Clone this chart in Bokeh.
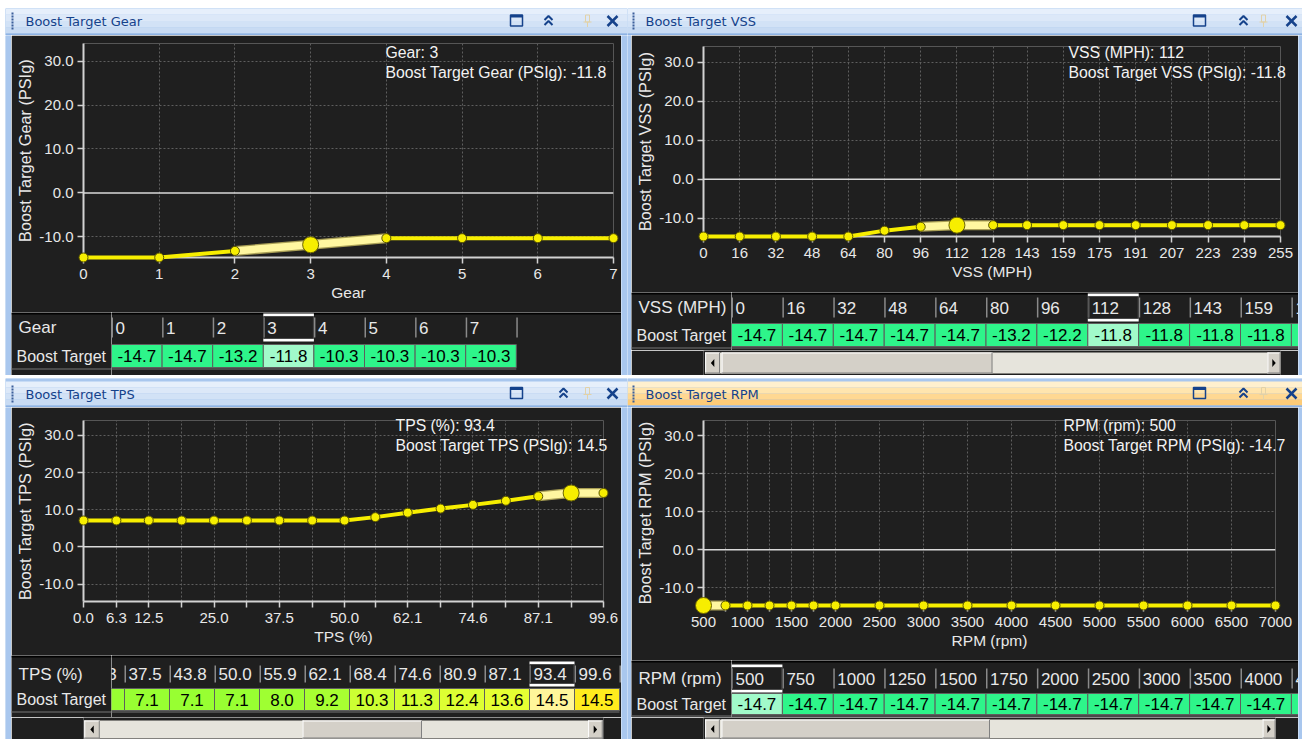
from bokeh.plotting import figure
from bokeh.layouts import row, column
from bokeh.models import (Range1d, FixedTicker, CustomJSTickFormatter, PrintfTickFormatter,
                          Span, Spacer)
from bokeh.core.properties import value
from bokeh.embed import file_html
from bokeh.resources import INLINE

# ---------------- data ----------------
gear_x = [0, 1, 2, 3, 4, 5, 6, 7]
gear_y = [-14.7, -14.7, -13.2, -11.8, -10.3, -10.3, -10.3, -10.3]
gear_tick_labels = ["0", "1", "2", "3", "4", "5", "6", "7"]
gear_headers = ["0", "1", "2", "3", "4", "5", "6", "7"]
gear_sel = 3

vss_x = [0, 16, 32, 48, 64, 80, 96, 112, 128, 143, 159, 175, 191, 207, 223, 239, 255]
vss_y = [-14.7, -14.7, -14.7, -14.7, -14.7, -13.2, -12.2, -11.8, -11.8, -11.8, -11.8,
         -11.8, -11.8, -11.8, -11.8, -11.8, -11.8]
vss_tick_labels = ["0", "16", "32", "48", "64", "80", "96", "112", "128", "143", "159",
                   "175", "191", "207", "223", "239", "255"]
vss_headers = vss_tick_labels
vss_sel = 7

tps_x = [0.0, 6.3, 12.5, 18.8, 25.0, 31.3, 37.5, 43.8, 50.0, 55.9, 62.1, 68.4, 74.6,
         80.9, 87.1, 93.4, 99.6]
tps_y = [7.1, 7.1, 7.1, 7.1, 7.1, 7.1, 7.1, 7.1, 7.1, 8.0, 9.2, 10.3, 11.3, 12.4, 13.6,
         14.5, 14.5]
tps_tick_labels = ["0.0", "6.3", "12.5", "", "25.0", "", "37.5", "", "50.0", "", "62.1",
                   "", "74.6", "", "87.1", "", "99.6"]
tps_headers = ["0.0", "6.3", "12.5", "18.8", "25.0", "31.3", "37.5", "43.8", "50.0",
               "55.9", "62.1", "68.4", "74.6", "80.9", "87.1", "93.4", "99.6"]
tps_sel = 15

rpm_x = [500, 750, 1000, 1250, 1500, 1750, 2000, 2500, 3000, 3500, 4000, 4500, 5000,
         5500, 6000, 6500, 7000]
rpm_y = [-14.7, -14.7, -14.7, -14.7, -14.7, -14.7, -14.7, -14.7, -14.7, -14.7, -14.7,
         -14.7, -14.7, -14.7, -14.7, -14.7, -14.7]
rpm_tick_labels = ["500", "", "1000", "", "1500", "", "2000", "2500", "3000", "3500",
                   "4000", "4500", "5000", "5500", "6000", "6500", "7000"]
rpm_headers = ["500", "750", "1000", "1250", "1500", "1750", "2000", "2500", "3000",
               "3500", "4000", "4500", "5000", "5500", "6000", "6500", "7000"]
rpm_sel = 0

y_ticks = [-10, 0, 10, 20, 30]
y_min, y_max = -14.7, 34.0

# ---------------- style ----------------
DARK = "#1F1F1F"
BORDER = "#A9C7EE"
TXT = "#E8E8E8"
GRID = "#5E5E5E"
AXIS = "#D2D2D2"
YEL = "#F7EE00"
F = "Liberation Sans"
TF = "DejaVu Sans"


def pix(w, h, bg):
    return figure(width=w, height=h, x_range=Range1d(0, w), y_range=Range1d(h, 0),
                  x_axis_type=None, y_axis_type=None, output_backend="svg",
                  toolbar_location=None, min_border=0, background_fill_color=bg,
                  border_fill_color=bg, outline_line_color=None)


def border_fig(w, h):
    p = pix(w, h, BORDER)
    p.quad(left=[0], right=[w], top=[0], bottom=[h], fill_color=BORDER, line_color=None)
    return p


def cell_color(v, sel=False):
    stops = [(-14.7, (46, 245, 138)), (-10.3, (46, 245, 138)), (7.1, (152, 255, 50)),
             (9.2, (168, 255, 50)), (10.3, (204, 255, 51)), (13.6, (230, 255, 51)),
             (14.5, (255, 236, 30))]
    c = stops[-1][1]
    if v <= stops[0][0]:
        c = stops[0][1]
    for (a, ca), (b, cb) in zip(stops[:-1], stops[1:]):
        if a <= v <= b:
            t = 0 if b == a else (v - a) / (b - a)
            c = tuple(ca[k] + (cb[k] - ca[k]) * t for k in range(3))
            break
    if sel:
        c = tuple(x + (255 - x) * 0.55 for x in c)
    return "#%02x%02x%02x" % tuple(int(round(x)) for x in c)


def make_title(w, h, y0, y1, title, active, grip_x, text_x, icons):
    p = pix(w, h, BORDER)
    p.quad(left=[0], right=[w], top=[0], bottom=[h], fill_color=BORDER, line_color=None)
    if active:
        cols = ["#FFF0CE", "#FFE5AE", "#FFD892", "#FDCB77"]
    else:
        cols = ["#E6EFFB", "#DCE8F8", "#D2E2F6", "#C8DBF3"]
    n = len(cols)
    st = (y1 - y0) / n
    p.quad(left=[0] * n, right=[w] * n, top=[y0 + i * st for i in range(n)],
           bottom=[y0 + (i + 1) * st for i in range(n)], fill_color=cols, line_color=None)
    p.quad(left=[0], right=[w], top=[y1], bottom=[y1 + 2], fill_color="#8EB3E4", line_color=None)
    gy = [y0 + 4 + 3 * i for i in range(6)]
    p.quad(left=[grip_x] * 6, right=[grip_x + 2] * 6, top=gy, bottom=[g + 2 for g in gy],
           fill_color="#3B5E9A", line_color=None)
    cy = (y0 + y1) / 2
    p.text(x=[text_x], y=[cy + 0.5], text=[title], text_font=value(TF),
           text_font_size=value("13px"), text_color="#15428B", text_baseline="middle",
           text_align="left")
    sq, ch, pn, xx = icons
    p.quad(left=[sq - 6], right=[sq + 6], top=[cy - 6], bottom=[cy + 5], fill_color=None,
           line_color="#15428B", line_width=1.5)
    p.quad(left=[sq - 6], right=[sq + 6], top=[cy - 6], bottom=[cy - 3.5],
           fill_color="#15428B", line_color=None)
    p.multi_line(xs=[[ch - 4, ch, ch + 4], [ch - 4, ch, ch + 4]],
                 ys=[[cy - 1, cy - 5, cy - 1], [cy + 4, cy, cy + 4]],
                 line_color="#15428B", line_width=2)
    p.quad(left=[pn - 2], right=[pn + 2], top=[cy - 6], bottom=[cy + 1], fill_color=None,
           line_color="#E2D2A8", line_width=1)
    p.segment(x0=[pn - 4, pn], y0=[cy + 1, cy + 1], x1=[pn + 4, pn], y1=[cy + 1, cy + 6],
              line_color="#E2D2A8", line_width=1)
    p.segment(x0=[xx - 5, xx - 5], y0=[cy - 5, cy + 5], x1=[xx + 5, xx + 5],
              y1=[cy + 5, cy - 5], line_color="#15428B", line_width=2.5)
    return p


def make_chart(w, h, ml, mr, mt, mb, xs, ys, sel, tick_labels, headers, xname, yname, tip):
    p = figure(width=w, height=h, x_range=Range1d(xs[0], xs[-1]),
               y_range=Range1d(y_min, y_max), output_backend="svg", toolbar_location=None,
               min_border_left=ml, min_border_right=mr, min_border_top=mt,
               min_border_bottom=mb, background_fill_color=DARK, border_fill_color=DARK,
               outline_line_color=None)
    xt = FixedTicker(ticks=list(xs), minor_ticks=[])
    p.xaxis.ticker = xt
    p.xaxis.formatter = CustomJSTickFormatter(
        args=dict(xs=list(xs), labels=list(tick_labels)),
        code="""
        for (let i = 0; i < xs.length; i++) {
            if (Math.abs(xs[i] - tick) < 1e-6) { return labels[i]; }
        }
        return "";
        """)
    p.yaxis.ticker = FixedTicker(ticks=y_ticks, minor_ticks=[])
    p.yaxis.formatter = PrintfTickFormatter(format="%.1f")
    p.xgrid.ticker = xt
    p.ygrid.ticker = FixedTicker(ticks=[t for t in y_ticks if t != 0], minor_ticks=[])
    for g in (p.xgrid[0], p.ygrid[0]):
        g.grid_line_color = GRID
        g.grid_line_dash = "2 2"
        g.grid_line_width = 1
    for ax in (p.xaxis[0], p.yaxis[0]):
        ax.axis_line_color = AXIS
        ax.axis_line_width = 2
        ax.major_tick_line_color = AXIS
        ax.major_tick_line_width = 1.5
        ax.major_tick_in = 0
        ax.major_tick_out = 6
        ax.minor_tick_line_color = None
        ax.major_label_text_color = TXT
        ax.major_label_text_font = F
        ax.major_label_text_font_size = "15px"
        ax.axis_label_text_color = TXT
        ax.axis_label_text_font = F
        ax.axis_label_text_font_style = "normal"
    p.xaxis.axis_label_text_font_size = "15.5px"
    p.yaxis.axis_label_text_font_size = "16.3px"
    p.xaxis.axis_label = xname
    p.yaxis.axis_label = yname
    p.xaxis.major_label_standoff = 5
    p.xaxis.axis_label_standoff = 2
    p.yaxis.major_label_standoff = 4
    p.yaxis.axis_label_standoff = 2
    p.add_layout(Span(location=0, dimension="width", line_color="#DADADA", line_width=1.5))

    r = p.line(list(xs), list(ys), line_color=YEL, line_width=4)
    r.level = "overlay"
    lo, hi = max(0, sel - 1), min(len(xs), sel + 2)
    r = p.line(list(xs[lo:hi]), list(ys[lo:hi]), line_color="#A89E55", line_width=10)
    r.level = "overlay"
    r = p.line(list(xs[lo:hi]), list(ys[lo:hi]), line_color="#FFF7A0", line_width=7.5)
    r.level = "overlay"
    r = p.scatter(list(xs), list(ys), size=9, fill_color=YEL, line_color="#5A5500",
                  line_width=1)
    r.level = "overlay"
    r = p.scatter([xs[sel]], [ys[sel]], size=16, fill_color=YEL, line_color="#6A6400",
                  line_width=1)
    r.level = "overlay"

    fw = w - ml - mr
    fh = h - mt - mb
    tx, ty1, ty2 = tip

    def dx(px):
        return xs[0] + (px - ml) * (xs[-1] - xs[0]) / fw

    def dy(py):
        return y_max - (py - mt) * (y_max - y_min) / fh

    r = p.text(x=[dx(tx), dx(tx)], y=[dy(ty1), dy(ty2)],
               text=["%s: %s" % (xname, headers[sel]), "%s: %.1f" % (yname, ys[sel])],
               text_color="#F2F2F2", text_font=value(F), text_font_size=value("15.8px"),
               text_baseline="middle", text_align="left")
    r.level = "overlay"
    return p


def make_table(label_w, cells_w, h, hy, vy, head_name, headers, vals, sel, cell_w, first_left):
    hc = (hy[0] + hy[1]) / 2
    vc = (vy[0] + vy[1]) / 2
    lab = pix(label_w, h, DARK)
    lab.quad(left=[0], right=[label_w], top=[0], bottom=[2], fill_color="#000000", line_color=None)
    lab.segment(x0=[0], y0=[vy[1] + 1.5], x1=[label_w], y1=[vy[1] + 1.5],
                line_color="#5A5A5A", line_width=1.5)
    lab.text(x=[7], y=[hc], text=[head_name], text_font=value(F),
             text_font_size=value("17px"), text_color=TXT, text_baseline="middle",
             text_align="left")
    lab.text(x=[5], y=[vc], text=["Boost Target"], text_font=value(F),
             text_font_size=value("16px"), text_color=TXT, text_baseline="middle",
             text_align="left")

    cells = pix(cells_w, h, DARK)
    cells.quad(left=[0], right=[cells_w], top=[0], bottom=[2], fill_color="#000000",
               line_color=None)
    # only the columns that fall (at least partly) inside the visible table window
    idx = [i for i in range(len(vals))
           if first_left + i * cell_w < cells_w and first_left + (i + 1) * cell_w > 0]
    lefts = [first_left + i * cell_w for i in idx]
    hdr = [headers[i] for i in idx]
    vv = [vals[i] for i in idx]
    n = len(idx)
    last_right = lefts[-1] + cell_w
    seps = lefts + [last_right]
    cells.segment(x0=[s + 0.75 for s in seps], y0=[hy[0]] * len(seps),
                  x1=[s + 0.75 for s in seps], y1=[hy[1]] * len(seps),
                  line_color="#8A8A8A", line_width=1.5)
    cells.segment(x0=[0], y0=[vy[1] + 1.5], x1=[min(last_right, cells_w)], y1=[vy[1] + 1.5],
                  line_color="#5A5A5A", line_width=1.5)
    cells.text(x=[l + 4 for l in lefts], y=[hc] * n, text=hdr, text_font=value(F),
               text_font_size=value("17px"), text_color=TXT, text_baseline="middle",
               text_align="left")
    cells.quad(left=lefts, right=[l + cell_w for l in lefts], top=[vy[0]] * n,
               bottom=[vy[1]] * n,
               fill_color=[cell_color(v, i == sel) for i, v in zip(idx, vv)],
               line_color="#5E5E5E", line_width=1)
    # value texts only for fully visible cells (partial cells show no number)
    full = [k for k in range(n) if lefts[k] >= 0 and lefts[k] + cell_w <= cells_w]
    cells.text(x=[lefts[k] + cell_w / 2 for k in full], y=[vc] * len(full),
               text=["%.1f" % vv[k] for k in full],
               text_font=value(F), text_font_size=value("17px"), text_color="#000000",
               text_baseline="middle", text_align="center")
    sl = first_left + sel * cell_w
    cells.quad(left=[sl, sl], right=[sl + cell_w, sl + cell_w], top=[hy[0] - 4, hy[1] + 1],
               bottom=[hy[0] - 1, hy[1] + 4], fill_color="#FFFFFF", line_color=None)
    cells.quad(left=[sl + 0.5], right=[sl + cell_w - 0.5], top=[hy[0] - 1], bottom=[hy[1] + 1],
               fill_color=None, line_color="#4A4A4A", line_width=1)
    return row(lab, cells)


def make_scroll(w, h, y0, y1, lb, thumb, rb):
    p = pix(w, h, DARK)
    p.quad(left=[lb[0]], right=[rb[1]], top=[y0], bottom=[y1], fill_color="#E6E4DC",
           line_color=None)
    boxes = [lb, thumb, rb]
    p.quad(left=[b[0] for b in boxes], right=[b[1] for b in boxes], top=[y0] * 3,
           bottom=[y1] * 3, fill_color="#D4D0C8", line_color=None)
    p.segment(x0=[b[0] + 0.5 for b in boxes] + [b[0] for b in boxes],
              y0=[y0] * 3 + [y0 + 0.5] * 3,
              x1=[b[0] + 0.5 for b in boxes] + [b[1] for b in boxes],
              y1=[y1] * 3 + [y0 + 0.5] * 3, line_color="#FFFFFF", line_width=1)
    p.segment(x0=[b[1] - 0.5 for b in boxes] + [b[0] for b in boxes],
              y0=[y0] * 3 + [y1 - 0.5] * 3,
              x1=[b[1] - 0.5 for b in boxes] + [b[1] for b in boxes],
              y1=[y1] * 3 + [y1 - 0.5] * 3, line_color="#808080", line_width=1)
    cy = (y0 + y1) / 2
    lc = (lb[0] + lb[1]) / 2
    rc = (rb[0] + rb[1]) / 2
    p.patches(xs=[[lc + 2, lc - 2, lc + 2], [rc - 2, rc + 2, rc - 2]],
              ys=[[cy - 4, cy, cy + 4], [cy - 4, cy, cy + 4]], fill_color="#000000",
              line_color=None)
    return p


# ---------------- panels ----------------
# top-left: Gear
tl_title = make_title(622, 27, 0, 25, "Boost Target Gear", False, 6, 20, (511, 543, 582, 607))
tl_chart = make_chart(610, 277, 72, 8, 8, 55, gear_x, gear_y, gear_sel, gear_tick_labels,
                      gear_headers, "Gear", "Boost Target Gear (PSIg)", (374, 17, 37))
tl_table = make_table(100, 510, 63, (5, 25), (32, 55), "Gear", gear_headers, gear_y,
                      gear_sel, 50.6, 0)
tl = column(tl_title,
            row(border_fig(6, 340), column(tl_chart, tl_table), border_fig(6, 340)),
            border_fig(622, 3))

# top-right: VSS
tr_title = make_title(675, 27, 0, 25, "Boost Target VSS", False, 5, 18, (572, 616, 636, 664))
tr_chart = make_chart(667, 257, 72, 18, 11, 56, vss_x, vss_y, vss_sel, vss_tick_labels,
                      vss_headers, "VSS (MPH)", "Boost Target VSS (PSIg)", (437, 17, 37))
tr_table = make_table(100, 567, 58, (5, 25), (31, 54), "VSS (MPH)", vss_headers, vss_y,
                      vss_sel, 50.9, 0)
tr_scroll = make_scroll(667, 25, 2, 23, (2, 19), (21, 334), (652, 667))
tr = column(tr_title,
            row(border_fig(4, 340), column(tr_chart, tr_table, tr_scroll), border_fig(4, 340)),
            border_fig(675, 3))

# bottom-left: TPS
bl_title = make_title(622, 29, 3, 27, "Boost Target TPS", False, 6, 20, (511, 558, 582, 607))
bl_chart = make_chart(610, 248, 72, 18, 13, 54, tps_x, tps_y, tps_sel, tps_tick_labels,
                      tps_headers, "TPS (%)", "Boost Target TPS (PSIg)", (384, 18, 38))
bl_table = make_table(100, 510, 62, (10, 27), (33, 55), "TPS (%)", tps_headers, tps_y,
                      tps_sel, 45.0, -257)
bl_scroll = make_scroll(610, 22, 3, 21, (1, 19), (257, 397), (592, 609))
bl = column(bl_title,
            row(border_fig(6, 332), column(bl_chart, bl_table, bl_scroll), border_fig(6, 332)),
            border_fig(622, 3))

# bottom-right: RPM (active window)
br_title = make_title(675, 29, 3, 27, "Boost Target RPM", True, 5, 18, (572, 616, 636, 664))
br_chart = make_chart(667, 253, 72, 23, 13, 55, rpm_x, rpm_y, rpm_sel, rpm_tick_labels,
                      rpm_headers, "RPM (rpm)", "Boost Target RPM (PSIg)", (432, 18, 38))
br_table = make_table(100, 567, 57, (8, 28), (33, 54), "RPM (rpm)", rpm_headers, rpm_y,
                      rpm_sel, 50.9, 0)
br_scroll = make_scroll(667, 22, 2, 21, (2, 19), (21, 334), (652, 667))
br = column(br_title,
            row(border_fig(4, 332), column(br_chart, br_table, br_scroll), border_fig(4, 332)),
            border_fig(675, 3))

layout = column(Spacer(width=1302, height=8),
                row(Spacer(width=5, height=734), column(row(tl, tr), row(bl, br))))

open("out.html", "w").write(file_html(layout, INLINE))
